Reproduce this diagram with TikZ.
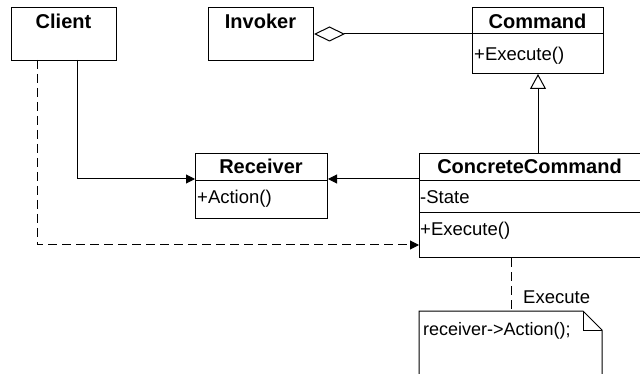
\documentclass[tikz,border=0pt]{standalone}
\usepackage{fontspec}
\setmainfont{Liberation Sans}
\usetikzlibrary{arrows.meta}
\tikzset{
  box/.style={draw, line width=1pt, rectangle, inner sep=0pt, anchor=north west},
  ttl/.style={font=\fontsize{20}{24}\selectfont\bfseries, inner sep=0pt, anchor=base},
  mem/.style={font=\fontsize{18.5}{22}\selectfont, inner sep=0pt, anchor=base west},
  conn/.style={line width=1pt},
  arr/.style={conn, -{Triangle[length=9pt,width=9pt]}},
  dep/.style={conn, dash pattern=on 9pt off 5pt},
  agg/.style={conn, {Diamond[open,length=31pt,width=15pt]}-},
  inh/.style={conn, -{Triangle[open,length=15pt,width=16pt]}}
}
\begin{document}
\begin{tikzpicture}[x=1pt,y=-1pt]
\useasboundingbox (0,0) rectangle (640,374);
\clip (0,0) rectangle (640,374);
% classes
\node[box, minimum width=105pt, minimum height=53pt] (client) at (11,7) {};
\node[ttl] (clientT) at (63.5,29) {Client};
\node[box, minimum width=105pt, minimum height=53pt] (invoker) at (208,7) {};
\node[ttl] (invokerT) at (260.5,29) {Invoker};
\node[box, minimum width=131pt, minimum height=66pt] (command) at (472,7) {};
\node[ttl] (commandT) at (537.5,29) {Command};
\draw[conn] (472,34) -- (603,34);
\node[mem] (commandM) at (474,61) {+Execute()};
\node[box, minimum width=132pt, minimum height=65pt] (receiver) at (195,153) {};
\node[ttl] (receiverT) at (261,174) {Receiver};
\draw[conn] (195,181) -- (327,181);
\node[mem] (receiverM) at (197,204) {+Action()};
\node[box, minimum width=222pt, minimum height=104pt] (cc) at (419,153) {};
\node[ttl] (ccT) at (529.5,174) {ConcreteCommand};
\draw[conn] (419,181) -- (641,181);
\draw[conn] (419,213) -- (641,213);
\node[mem] (ccS) at (420,204) {-State};
\node[mem] (ccM) at (420,236) {+Execute()};
% note
\draw[conn] (419,400) -- (419,311) -- (583,311) -- (602,330) -- (602,400);
\draw[conn] (583,311) -- (583,330) -- (602,330);
\node[mem, font=\fontsize{18}{22}\selectfont] (noteT) at (423,335) {receiver->Action();};
\coordinate (noteTop) at (511,311);
% connectors
\draw[agg] (invoker.east) -- (invoker.east -| command.west);
\draw[inh] (command.south |- cc.north) -- (command.south);
\coordinate (rcvY) at (0,179);
\draw[arr] (cc.west |- rcvY) -- (receiver.east |- rcvY);
\coordinate (clientS) at (77,60);
\draw[arr] (clientS) |- (receiver.west |- rcvY);
\coordinate (clientD) at (37,60);
\coordinate (ccY) at (0,245);
\draw[dep, -{Triangle[length=9pt,width=9pt]}] (clientD) |- (cc.west |- ccY);
\draw[dep] (noteTop |- cc.south) -- (noteTop);
\node[mem] (execLbl) at (523,303) {Execute};
\end{tikzpicture}
\end{document}
